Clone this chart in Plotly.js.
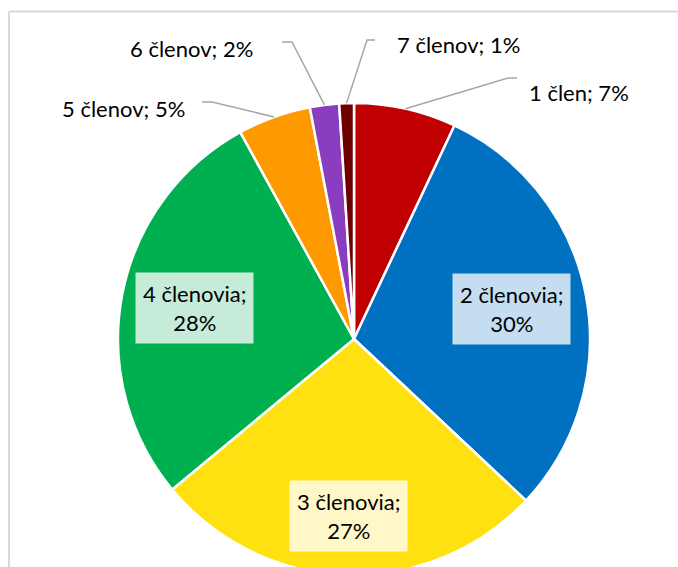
<!DOCTYPE html>
<html>
<head>
<meta charset="utf-8">
<script src="https://cdn.plot.ly/plotly-3.0.1.min.js"></script>
<style>
  html, body { margin: 0; padding: 0; width: 678px; height: 567px; overflow: hidden; background: #fff; }
  #chart { width: 678px; height: 678px; }
</style>
</head>
<body>
<div id="chart"></div>
<script>
// ---- data ----
const categories = ['1 člen', '2 členovia', '3 členovia', '4 členovia', '5 členov', '6 členov', '7 členov'];
const values = [7, 30, 27, 28, 5, 2, 1];

// ---- styles ----
const sliceColors = ['#C00000', '#0070C0', '#FFE010', '#00B050', '#FF9900', '#8B3DC0', '#700000'];
const labelBg = ['', '#C5DDF0', '#FFF7C8', '#C6EBD8', '', '', ''];

// ---- layout geometry (pixels) ----
const W = 678, H = 678;
const cx = 354, cy = 339, R = 236;
const FONT = 'Lato, "Liberation Sans", sans-serif';
const FS = 22;

// inside label radial placement (fraction of radius)
const insidePlacement = { 1: 0.68, 2: 0.75, 3: 0.69 };
// outside label placement: text anchor, elbow and end of leader (pixels)
const outsidePlacement = {
  0: { tx: 527, ty: 92, anchor: 'left', elbow: [508, 78], end: [517, 78] },
  4: { tx: 187, ty: 108, anchor: 'right', elbow: [212, 102], end: [202, 102] },
  5: { tx: 255, ty: 49, anchor: 'right', elbow: [292, 42], end: [282, 42] },
  6: { tx: 395, ty: 44, anchor: 'left', elbow: [367, 40], end: [375, 40] }
};

const px = x => x / W;
const py = y => 1 - y / H;

const total = values.reduce((a, b) => a + b, 0);
const annotations = [];
const shapes = [];

let cum = 0;
values.forEach((v, i) => {
  const start = cum / total * 2 * Math.PI;
  cum += v;
  const end = cum / total * 2 * Math.PI;
  const mid = (start + end) / 2;
  const pct = Math.round(v / total * 100) + '%';
  if (insidePlacement[i] !== undefined) {
    const r = insidePlacement[i] * R;
    annotations.push({
      xref: 'paper', yref: 'paper',
      x: px(cx + r * Math.sin(mid)), y: py(cy - r * Math.cos(mid)),
      xanchor: 'center', yanchor: 'middle',
      text: categories[i] + ';<br>' + pct,
      showarrow: false,
      bgcolor: labelBg[i], borderpad: 7,
      font: { family: FONT, size: FS, color: '#000' }
    });
  } else {
    const p = outsidePlacement[i];
    const sx = cx + R * Math.sin(mid), sy = cy - R * Math.cos(mid);
    shapes.push({
      type: 'path', xref: 'paper', yref: 'paper',
      path: `M ${px(sx)} ${py(sy)} L ${px(p.elbow[0])} ${py(p.elbow[1])} L ${px(p.end[0])} ${py(p.end[1])}`,
      line: { color: '#A6A6A6', width: 1.5 }
    });
    annotations.push({
      xref: 'paper', yref: 'paper',
      x: px(p.tx), y: py(p.ty),
      xanchor: p.anchor, yanchor: 'middle',
      text: categories[i] + '; ' + pct,
      showarrow: false,
      font: { family: FONT, size: FS, color: '#000' }
    });
  }
});

// chart frame
shapes.push({ type: 'line', xref: 'paper', yref: 'paper', x0: px(9), y0: py(11.5), x1: px(700), y1: py(11.5), line: { color: '#D9D9D9', width: 2 } });
shapes.push({ type: 'line', xref: 'paper', yref: 'paper', x0: px(9), y0: py(11.5), x1: px(9), y1: py(700), line: { color: '#D9D9D9', width: 2 } });

const trace = {
  type: 'pie',
  labels: categories,
  values: values,
  sort: false,
  direction: 'clockwise',
  rotation: 0,
  textinfo: 'none',
  hoverinfo: 'label+percent',
  marker: { colors: sliceColors, line: { color: '#FFFFFF', width: 2.5 } },
  domain: { x: [px(cx - R), px(cx + R)], y: [py(cy + R), py(cy - R)] },
  showlegend: false
};

const layout = {
  width: W, height: H,
  margin: { l: 0, r: 0, t: 0, b: 0 },
  paper_bgcolor: '#FFFFFF',
  showlegend: false,
  annotations: annotations,
  shapes: shapes,
  font: { family: FONT }
};

Plotly.newPlot('chart', [trace], layout, { displayModeBar: false, staticPlot: true });
</script>
</body>
</html>
